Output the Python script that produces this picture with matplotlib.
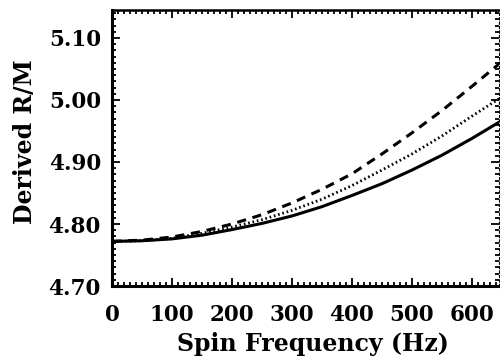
import matplotlib
matplotlib.use("Agg")
import matplotlib.pyplot as plt
from matplotlib.ticker import MultipleLocator

# spin frequency (Hz) and derived R/M for the three curves
freq = [0, 50, 100, 150, 200, 250, 300, 350, 400, 450, 500, 550, 600, 650]
rm_solid = [4.772, 4.773, 4.776, 4.782, 4.791, 4.801, 4.813, 4.828, 4.846,
            4.865, 4.887, 4.911, 4.938, 4.967]
rm_dotted = [4.772, 4.773, 4.777, 4.785, 4.795, 4.807, 4.822, 4.840, 4.862,
             4.887, 4.913, 4.942, 4.974, 5.005]
rm_dashed = [4.772, 4.774, 4.779, 4.788, 4.800, 4.815, 4.834, 4.856, 4.881,
             4.913, 4.947, 4.983, 5.022, 5.062]

xticks = [0, 100, 200, 300, 400, 500, 600]
yticks = [4.70, 4.80, 4.90, 5.00, 5.10]

plt.rcParams['font.family'] = ['DejaVu Serif']
plt.rcParams['font.weight'] = 'bold'

fig = plt.figure(figsize=(5, 3.58), dpi=100)
ax = fig.add_axes([0.224, 0.201, 0.774, 0.771])

ax.plot(freq, rm_solid, color='black', lw=2.2, linestyle='-')
ax.plot(freq, rm_dotted, color='black', lw=2.0, linestyle=(0, (0.6, 1.0)))
ax.plot(freq, rm_dashed, color='black', lw=2.2, linestyle=(0, (3, 2.2)))

ax.set_xlim(0, 645)
ax.set_ylim(4.70, 5.145)
ax.set_xticks(xticks)
ax.set_xticklabels([str(t) for t in xticks])
ax.set_yticks(yticks)
ax.set_yticklabels(["%.2f" % t for t in yticks])
ax.xaxis.set_minor_locator(MultipleLocator(10))
ax.yaxis.set_minor_locator(MultipleLocator(0.01))

ax.tick_params(which='both', direction='in', top=True, right=True, width=1.3)
ax.tick_params(which='major', length=6, labelsize=15.5)
ax.tick_params(which='minor', length=3)
ax.tick_params(axis='x', pad=13)
ax.tick_params(axis='y', pad=8)

for side in ['left', 'bottom']:
    ax.spines[side].set_linewidth(2.2)
ax.spines['top'].set_linewidth(1.8)
ax.spines['right'].set_linewidth(0.8)
ax.spines['right'].set_linestyle((0, (2, 2)))

ax.set_xlabel("Spin Frequency (Hz)", fontsize=17, fontweight='bold')
ax.set_ylabel("Derived R/M", fontsize=17, fontweight='bold')
ax.xaxis.set_label_coords(0.518, -0.165)
ax.yaxis.set_label_coords(-0.194, 0.525)

fig.savefig("out.png", dpi=100)
